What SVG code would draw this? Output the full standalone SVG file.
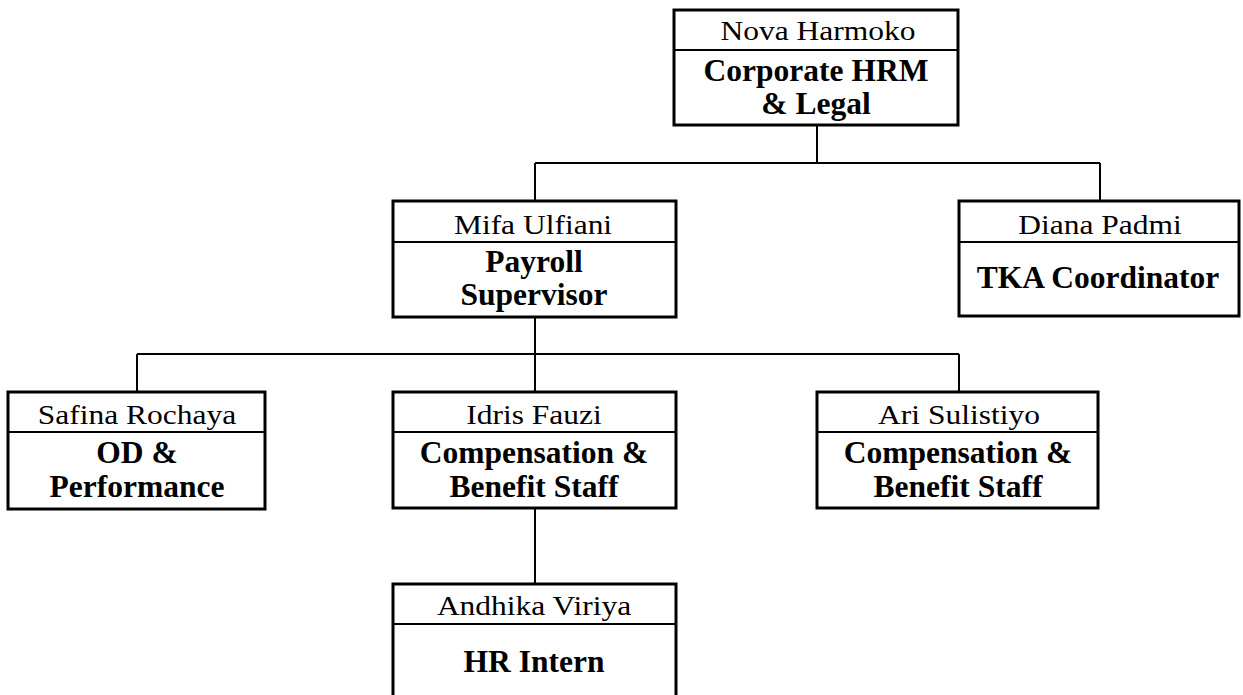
<svg xmlns="http://www.w3.org/2000/svg" width="1243" height="695" viewBox="0 0 1243 695">
<style>
.box{fill:#fff;stroke:#000;stroke-width:3}
.div{stroke:#000;stroke-width:1.8}
.con{stroke:#000;stroke-width:2;fill:none}
.name{font-family:"Liberation Serif","Times New Roman",serif;font-size:31.5px;text-anchor:middle;fill:#000}
.role{font-family:"Liberation Serif","Times New Roman",serif;font-size:31.5px;font-weight:bold;text-anchor:middle;fill:#000}
</style>
<rect width="1243" height="695" fill="#fff"/>
<g id="connectors">
<path class="con" d="M817 125V163M535 163H1100M535 163V201M1100 163V201"/>
<path class="con" d="M535 317V354M137 354H959M137 354V392M535 354V392M959 354V392"/>
<path class="con" d="M535 508V584"/>
</g>
<g id="nova">
<rect class="box" x="674" y="10" width="284" height="115"/>
<line class="div" x1="674" y1="50" x2="958" y2="50"/>
<text class="name" transform="translate(818 40) scale(1 0.86)">Nova Harmoko</text>
<text class="role" x="816" y="81">Corporate HRM</text>
<text class="role" x="816" y="114">&amp; Legal</text>
</g>
<g id="mifa">
<rect class="box" x="393" y="201" width="283" height="116"/>
<line class="div" x1="393" y1="242" x2="676" y2="242"/>
<text class="name" transform="translate(533 234) scale(1 0.86)">Mifa Ulfiani</text>
<text class="role" x="534" y="272">Payroll</text>
<text class="role" x="534" y="305">Supervisor</text>
</g>
<g id="diana">
<rect class="box" x="959" y="201" width="280" height="115"/>
<line class="div" x1="959" y1="242" x2="1239" y2="242"/>
<text class="name" transform="translate(1100 234) scale(1 0.86)">Diana Padmi</text>
<text class="role" x="1098" y="288">TKA Coordinator</text>
</g>
<g id="safina">
<rect class="box" x="8" y="392" width="257" height="117"/>
<line class="div" x1="8" y1="432" x2="265" y2="432"/>
<text class="name" transform="translate(137 424) scale(1 0.86)">Safina Rochaya</text>
<text class="role" x="137" y="463">OD &amp;</text>
<text class="role" x="137" y="497">Performance</text>
</g>
<g id="idris">
<rect class="box" x="393" y="392" width="283" height="116"/>
<line class="div" x1="393" y1="432" x2="676" y2="432"/>
<text class="name" transform="translate(534 424) scale(1 0.86)">Idris Fauzi</text>
<text class="role" x="534" y="463">Compensation &amp;</text>
<text class="role" x="534" y="497">Benefit Staff</text>
</g>
<g id="ari">
<rect class="box" x="817" y="392" width="281" height="116"/>
<line class="div" x1="817" y1="432" x2="1098" y2="432"/>
<text class="name" transform="translate(959 424) scale(1 0.86)">Ari Sulistiyo</text>
<text class="role" x="958" y="463">Compensation &amp;</text>
<text class="role" x="958" y="497">Benefit Staff</text>
</g>
<g id="andhika">
<rect class="box" x="393" y="584" width="283" height="120"/>
<line class="div" x1="393" y1="624" x2="676" y2="624"/>
<text class="name" transform="translate(534 615) scale(1 0.86)">Andhika Viriya</text>
<text class="role" x="534" y="672">HR Intern</text>
</g>
</svg>
